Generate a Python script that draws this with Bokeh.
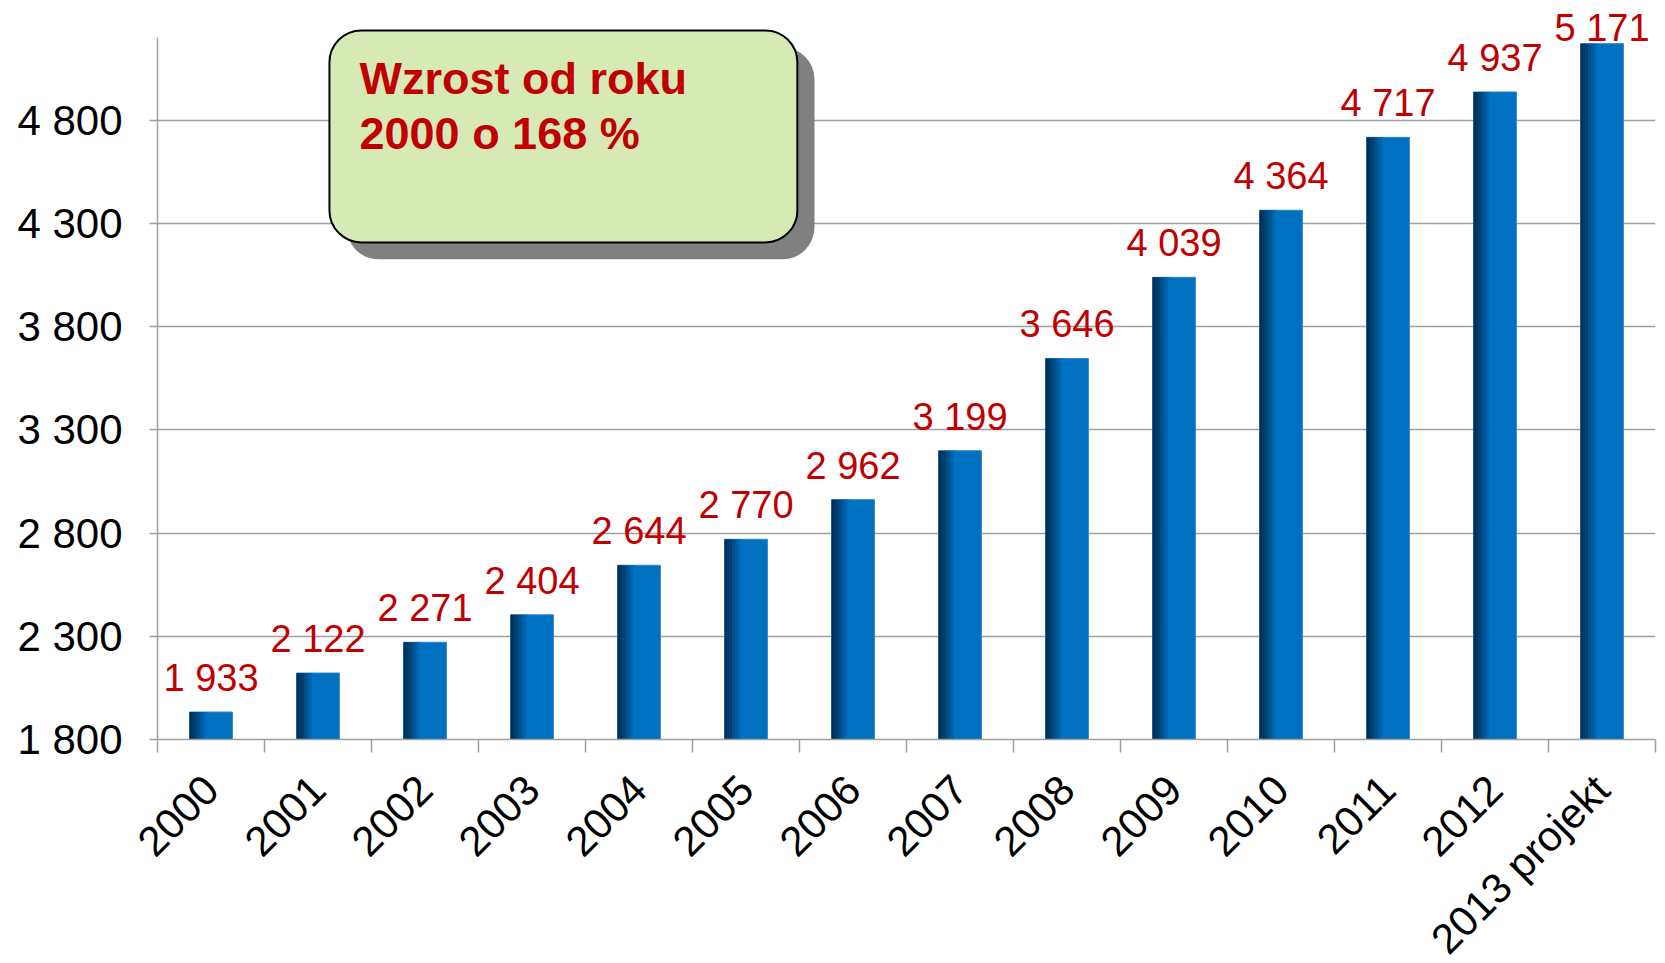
import math
from bokeh.plotting import figure
from bokeh.models import (Range1d, LinearAxis, FixedTicker, CustomJSTickFormatter,
                          ColumnDataSource, LabelSet, Label, BoxAnnotation)
from bokeh.transform import dodge
from bokeh.core.properties import value
from bokeh.embed import file_html
from bokeh.resources import INLINE

# ---------------- data ----------------
categories = ["2000", "2001", "2002", "2003", "2004", "2005", "2006", "2007",
              "2008", "2009", "2010", "2011", "2012", "2013 projekt"]
values = [1933, 2122, 2271, 2404, 2644, 2770, 2962, 3199, 3646, 4039, 4364, 4717, 4937, 5171]
value_labels = ["1 933", "2 122", "2 271", "2 404", "2 644", "2 770", "2 962", "3 199",
                "3 646", "4 039", "4 364", "4 717", "4 937", "5 171"]
y_ticks = [1800, 2300, 2800, 3300, 3800, 4300, 4800]
y_tick_labels = ["1 800", "2 300", "2 800", "3 300", "3 800", "4 300", "4 800"]
note_lines = ["Wzrost od roku", "2000 o 168 %"]

FONT = "Liberation Sans"
RED = "#C00000"
GRID = "#A0A0A0"

n = len(categories)
x_pos = [i + 0.5 for i in range(n)]          # category centres on a 0..n axis
y_top_label_limit = 5100  # labels above this are pushed down (Excel-like clamping)
label_offsets = [21 if v < y_top_label_limit else 3 for v in values]

src = ColumnDataSource(dict(x=x_pos, cat=categories, val=values, lab=value_labels,
                            off=label_offsets))

p = figure(frame_width=1498, frame_height=739,
           x_range=Range1d(0, n),
           y_range=Range1d(1800, 5380),
           x_axis_location=None,
           min_border_left=157, min_border_right=5, min_border_top=0, min_border_bottom=0,
           toolbar_location=None, output_backend="svg")
p.outline_line_color = None
p.background_fill_color = "white"
p.border_fill_color = "white"

# y axis
yax = p.yaxis[0]
yax.ticker = FixedTicker(ticks=y_ticks)
yax.formatter = CustomJSTickFormatter(args=dict(t=y_ticks, s=y_tick_labels),
                                      code="const i = t.indexOf(tick); return i >= 0 ? s[i] : '';")
yax.bounds = (1800, 5200)
yax.axis_line_color = GRID
yax.axis_line_width = 1.5
yax.major_tick_line_color = GRID
yax.major_tick_line_width = 1.5
yax.major_tick_in = 0
yax.major_tick_out = 8
yax.minor_tick_line_color = None
yax.major_label_text_font = FONT
yax.major_label_text_font_size = "42px"
yax.major_label_text_color = "black"
yax.major_label_standoff = 27

p.ygrid.ticker = FixedTicker(ticks=y_ticks)
p.ygrid.grid_line_color = GRID
p.ygrid.grid_line_width = 1.5
p.xgrid.grid_line_color = None

# x axis: ticks at the category boundaries, then the category labels at the centres
edge_axis = LinearAxis(ticker=FixedTicker(ticks=list(range(n + 1))),
                       axis_line_color=GRID, axis_line_width=1.5,
                       major_tick_line_color=GRID, major_tick_line_width=1.5,
                       major_tick_in=0, major_tick_out=13,
                       minor_tick_line_color=None, minor_tick_out=0,
                       major_label_text_font_size="1px", major_label_text_alpha=0,
                       major_label_standoff=0, axis_label_standoff=0)
p.add_layout(edge_axis, "below")

cat_axis = LinearAxis(ticker=FixedTicker(ticks=x_pos),
                      formatter=CustomJSTickFormatter(args=dict(cats=categories),
                                                      code="return cats[Math.floor(tick)] || '';"),
                      axis_line_color=None, major_tick_line_color=None,
                      minor_tick_line_color=None,
                      major_tick_in=0, major_tick_out=0, minor_tick_out=0,
                      axis_label_standoff=0,
                      major_label_orientation=math.pi / 4,
                      major_label_text_font=FONT,
                      major_label_text_font_size="42px",
                      major_label_text_color="black",
                      major_label_standoff=30)
p.add_layout(cat_axis, "below")

# bars with a horizontal dark-to-blue shading on the left side
BAR_W = 0.4
p.vbar(x="x", top="val", bottom=1800, width=BAR_W, source=src,
       fill_color="#0070C0", line_color="#2F86CF", line_width=1)

dark = (0x00, 0x30, 0x56)
blue = (0x00, 0x70, 0xC0)
n_strips = 7
shade_w = BAR_W * 0.42
sw = shade_w / n_strips
for i in range(n_strips):
    t = (i / (n_strips - 1)) ** 1.2
    c = tuple(int(round(dark[k] + (blue[k] - dark[k]) * t)) for k in range(3))
    col = "#%02x%02x%02x" % c
    p.vbar(x=dodge("x", -BAR_W / 2 + (i + 0.5) * sw),
           top="val", bottom=1800, width=sw * 1.05, source=src,
           fill_color=col, line_color=None)

# value labels
labels = LabelSet(x="x", y="val", text="lab", y_offset="off", source=src,
                  text_align="center", text_baseline="alphabetic",
                  text_font=value(FONT), text_font_size="38px", text_color=RED)
p.add_layout(labels)

# note box with shadow
box_l, box_r, box_t, box_b = 1.607, 5.98, 5235, 4208
sh_dx, sh_dy = 0.16, 82
shadow = BoxAnnotation(left=box_l + sh_dx, right=box_r + sh_dx,
                       top=box_t - sh_dy, bottom=box_b - sh_dy,
                       fill_color="#808080", fill_alpha=1.0, line_color=None,
                       border_radius=32)
p.add_layout(shadow)
box = BoxAnnotation(left=box_l, right=box_r, top=box_t, bottom=box_b,
                    fill_color="#D7E9B4", fill_alpha=1.0,
                    line_color="black", line_width=2, line_alpha=1.0,
                    border_radius=32)
p.add_layout(box)

for line, yv in zip(note_lines, [5003, 4735]):
    p.add_layout(Label(x=1.888, y=yv, text=line, text_font=FONT, text_font_size="45px",
                       text_font_style="bold", text_color=RED,
                       text_baseline="alphabetic", text_align="left"))

open("out.html", "w").write(file_html(p, INLINE))
